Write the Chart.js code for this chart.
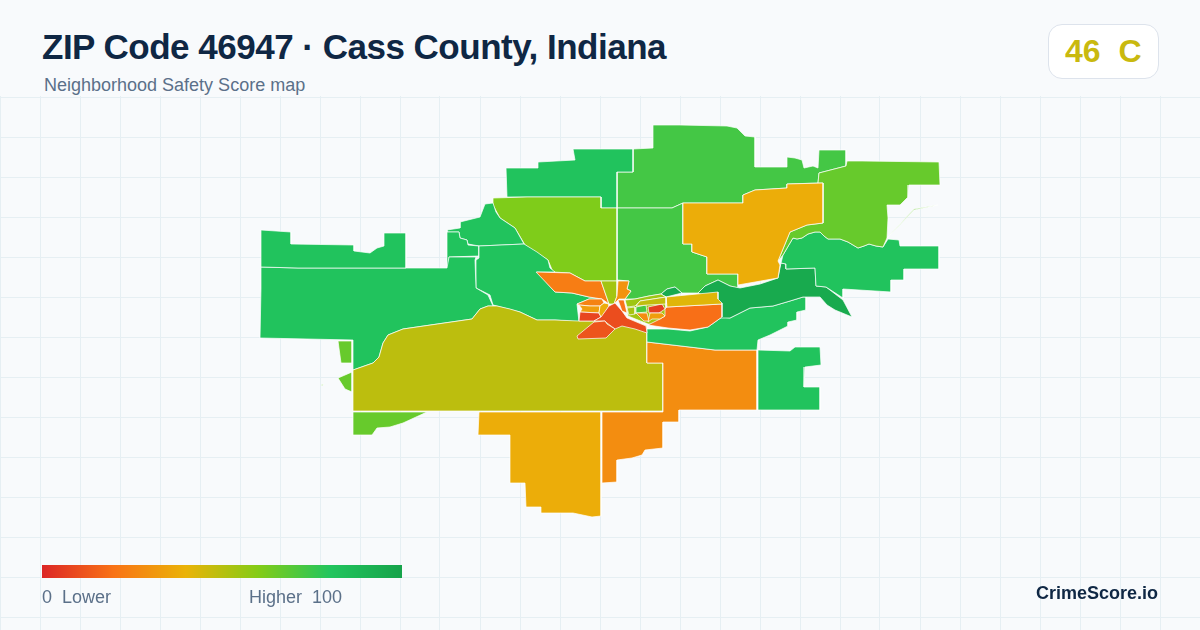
<!DOCTYPE html>
<html>
<head>
<meta charset="utf-8">
<title>ZIP Code 46947</title>
<script src="https://cdn.jsdelivr.net/npm/chart.js@4"></script>
<style>
    html, body { margin: 0; padding: 0; background: #f8fafc; }
    body { width: 1200px; height: 630px; position: relative; overflow: hidden; font-family: "Liberation Sans", Arial, sans-serif; }
    canvas { position: absolute; left: 0; top: 0; }
    .header { position: absolute; left: 0; top: 0; width: 1200px; height: 96px; background: #f8fafc; }
    .title { position: absolute; left: 42px; top: 27px; font-size: 35px; letter-spacing: -0.5px; line-height: 40px; font-weight: 700; color: #0f2744; white-space: pre; }
    .subtitle { position: absolute; left: 44px; top: 75px; font-size: 18px; line-height: 20px; color: #5b7089; white-space: pre; }
    .badge { position: absolute; left: 1048px; top: 24px; width: 109px; height: 53px; background: #fff; border: 1px solid #dde3ec; border-radius: 14px; }
    .badge span { position: absolute; left: 16px; top: 8px; font-size: 32px; line-height: 37px; font-weight: 700; color: #c9b90f; white-space: pre; }
    .bar { position: absolute; left: 42px; top: 565px; width: 360px; height: 13px; }
    .lab { position: absolute; top: 587px; font-size: 18px; line-height: 20px; color: #5b7089; white-space: pre; }
    .brand { position: absolute; right: 42px; top: 583px; font-size: 18px; line-height: 20px; font-weight: 700; color: #0f2744; }
</style>
</head>
<body>
<canvas id="map" width="1200" height="630"></canvas>
<div class="header"></div>
<div class="title">ZIP Code 46947 · Cass County, Indiana</div>
<div class="subtitle">Neighborhood Safety Score map</div>
<div class="badge"><span id="badge"></span></div>
<div class="bar" id="bar"></div>
<div class="lab" style="left:42px" id="lowLabel"></div>
<div class="lab" style="left:249px" id="highLabel"></div>
<div class="brand">CrimeScore.io</div>

<script>
// Tract outlines, back to front
const northBig = [[633,149],[653,148],[653,125],[680,125],[727,126],[737,128],[745,136],[755,137],[755,167],[787,167],[787,157],[795,158],[802,160],[804,168],[813,166],[818,168],[819,150],[846,150],[846,166],[819,173],[818,183],[787,184],[787,188],[755,190],[743,195],[743,203],[683,203],[672,208],[617,208],[617,172],[633,172]];
const northMid = [[617,208],[672,208],[683,203],[683,244],[692,244],[692,252],[707,257],[707,274],[738,274],[738,288],[730,286],[718,280],[705,286],[698,293],[682,293],[675,287],[667,289],[661,294],[649,296],[635,299],[625,299],[631,291],[627,289],[629,281],[617,280]];
const northWest = [[573,149],[633,149],[633,172],[617,172],[617,208],[601,208],[601,197],[527,197],[507,197],[506,168],[538,168],[538,162],[575,160]];
const limeNorth = [[493,198],[527,197],[601,197],[601,208],[617,208],[617,281],[601,281],[585,281],[570,273],[553,272],[548,260],[525,245],[515,228],[500,218],[493,205]];
const westSmall = [[493,203],[485,204],[480,217],[460,222],[460,228],[447,230],[447,232],[459,232],[460,238],[467,240],[468,244],[479,246],[524,244],[515,228],[500,218],[496,212]];
const westSliver = [[447,232],[459,232],[460,238],[467,240],[468,245],[479,246],[479,256],[449,257],[448,268],[447,268]];
const westRiver = [[479,246],[524,244],[537,252],[548,260],[550,268],[555,272],[537,272],[555,292],[572,293],[589,297],[602,299],[589,299],[577,304],[579,322],[555,320],[537,320],[520,312],[497,306],[493,305],[490,295],[476,288],[476,260],[479,258]];
const westBig = [[261,267],[298,268],[406,268],[447,268],[449,257],[476,257],[475,260],[476,288],[488,295],[493,306],[488,306],[480,309],[472,319],[403,329],[388,335],[383,343],[379,357],[373,363],[353,370],[353,340],[307,339],[260,338],[261,288]];
const westTop = [[261,230],[291,232],[291,244],[354,245],[354,251],[370,253],[377,248],[384,246],[384,233],[406,233],[406,268],[298,268],[261,267]];
const westChip = [[338,341],[352,341],[352,363],[341,363]];
const westDot = [[338,378],[352,372],[352,392],[345,389]];
const farDot = [[321,385],[324,384],[322,386]];
const olive = [[353,370],[373,363],[379,357],[383,343],[388,335],[403,329],[472,319],[480,309],[488,306],[497,306],[510,309],[520,312],[537,320],[555,320],[579,321],[594,321],[605,321],[615,325],[627,318],[647,326],[647,363],[663,363],[663,411],[353,411]];
const limeSouth = [[353,412],[427,412],[403,423],[390,427],[377,428],[372,435],[353,435]];
const southAmber = [[479,412],[601,412],[601,516],[592,517],[573,513],[541,513],[541,507],[526,507],[525,483],[510,483],[510,435],[478,435]];
const southOrange = [[647,342],[715,350],[757,350],[757,410],[679,410],[679,422],[663,422],[663,448],[645,450],[642,455],[632,458],[617,460],[617,482],[602,483],[602,412],[663,412],[663,363],[647,363]];
const eastSquare = [[758,350],[790,351],[795,347],[820,347],[821,365],[805,367],[804,387],[820,387],[820,410],[758,410]];
const riverBand = [[647,329],[668,329],[690,331],[708,327],[722,317],[730,318],[740,313],[750,308],[773,306],[790,301],[803,297],[806,297],[806,310],[797,312],[797,320],[788,322],[788,326],[770,335],[758,340],[757,350],[715,350],[647,342]];
const darkRiver = [[698,293],[705,286],[718,280],[730,286],[740,288],[760,284],[778,278],[781,263],[786,264],[786,269],[815,268],[816,286],[826,287],[843,300],[852,317],[835,310],[827,305],[820,297],[803,297],[790,301],[773,306],[750,308],[740,313],[730,318],[720,318],[715,300]];
const darkChip = [[661,294],[667,289],[675,287],[682,293],[666,297]];
const eastGreen = [[793,238],[797,239],[802,238],[808,234],[815,232],[820,232],[824,236],[828,239],[840,239],[848,242],[858,248],[864,246],[869,244],[876,246],[883,247],[888,239],[899,240],[900,246],[939,246],[939,269],[904,269],[904,280],[891,280],[891,292],[843,289],[843,298],[826,287],[816,286],[815,268],[786,269],[786,264],[781,263],[783,255],[790,243]];
const eastLime = [[819,173],[846,166],[847,161],[862,161],[939,162],[940,185],[909,185],[908,197],[900,205],[887,205],[888,218],[887,238],[883,247],[876,246],[869,244],[864,246],[858,248],[848,242],[840,239],[828,239],[824,236],[820,232],[815,232],[808,234],[802,238],[797,239],[793,238],[790,243],[783,255],[778,261],[790,232],[807,225],[823,223],[823,183],[818,183]];
const eastSliver = [[887,238],[914,209],[938,205],[914,210]];
const amberBlock = [[683,203],[743,203],[743,195],[755,190],[787,188],[787,184],[823,183],[823,223],[807,225],[790,232],[778,261],[780,265],[778,278],[738,285],[738,274],[707,274],[707,257],[692,252],[692,244],[683,244]];
const coreUnder = [[626,301],[665,299],[667,326],[648,324],[628,316]];
const orangeEast = [[667,307],[722,304],[722,317],[708,327],[690,330],[668,328],[648,325],[660,319],[665,316],[665,309]];
const yellowStrip = [[666,297],[718,292],[718,299],[722,303],[722,304],[667,307]];
const orangeNorth = [[536,272],[570,273],[585,281],[601,281],[609,304],[602,299],[589,297],[572,293],[555,292]];
const limeCenter = [[601,281],[617,281],[617,296],[614,304],[609,304]];
const orangeCenter = [[618,281],[629,281],[627,289],[631,291],[625,299],[619,299],[614,304],[617,296]];
const coreOrange = [[577,304],[589,299],[602,299],[604,303],[600,306],[590,306],[579,305]];
const coreAmber = [[579,305],[590,306],[600,306],[599,313],[580,312],[582,309]];
const coreRed = [[580,312],[599,313],[601,317],[594,321],[579,321]];
const coreYellow = [[599,313],[600,306],[604,303],[609,304],[609,306],[604,314],[601,317]];
const coreBig = [[615,303],[622,311],[627,318],[646,326],[647,333],[635,329],[622,326],[615,329],[607,323],[605,321],[594,321],[601,317],[609,306]];
const coreLow = [[577,336],[594,322],[605,321],[607,324],[615,329],[606,338],[578,339]];
const coreStrip = [[618,300],[624,300],[627,313],[622,311]];
const lineLime = [[625,300],[635,299],[649,296],[661,294],[666,297],[640,301],[635,306],[627,307]];
const chipOlive = [[627,308],[635,307],[635,314],[629,315]];
const chipGreen = [[636,307],[646,305],[647,312],[636,313]];
const chipRed = [[648,307],[662,304],[665,309],[659,313],[649,313]];
const chipYellow = [[640,301],[666,297],[666,304],[648,305],[636,306]];
const chipOrange = [[636,313],[647,313],[649,321],[644,321]];
const chipAmber = [[650,313],[662,313],[665,316],[660,319],[652,319],[648,322]];

const tracts = [northBig, northMid, northWest, limeNorth, westSmall, westSliver, westRiver, westBig, westTop,
    westChip, westDot, farDot, olive, limeSouth, southAmber, southOrange, eastSquare, riverBand, darkRiver, darkChip,
    eastGreen, eastLime, eastSliver, amberBlock, coreUnder, orangeEast, yellowStrip, orangeNorth, limeCenter, orangeCenter,
    coreOrange, coreAmber, coreRed, coreYellow, coreBig, coreLow, coreStrip, lineLime, chipOlive, chipGreen, chipRed,
    chipYellow, chipOrange, chipAmber];
const tractScores = [73, 73, 81, 61, 81, 81, 81, 81, 81,
    66, 66, 66, 49, 66, 38, 28, 81, 81, 96, 96,
    81, 66, 66, 38, 54, 19, 42, 23, 54, 30,
    25, 33, 8, 38, 10, 12, 20, 55, 53, 72, 6,
    48, 28, 33];

const rampStops = [0, 20, 40, 60, 80, 100];
const rampColors = [[220,38,38], [249,115,22], [234,179,8], [132,204,22], [34,197,94], [22,163,74]];
const gridCols = [0, 40, 80, 120, 160, 200, 240, 280, 320, 360, 400, 440, 480, 520, 560, 600, 640, 680, 720, 760, 800, 840, 880, 920, 960, 1000, 1040, 1080, 1120, 1160];
const gridRows = [97, 137, 177, 217, 257, 297, 337, 377, 417, 457, 497, 537, 577, 617];
const overallScore = 46;
const overallGrade = 'C';

function scoreColor(score) {
    let i = 0;
    while (i < rampStops.length - 2 && score > rampStops[i + 1]) i++;
    const t = (score - rampStops[i]) / (rampStops[i + 1] - rampStops[i]);
    const c = rampColors[i].map((v, k) => Math.round(v + (rampColors[i + 1][k] - v) * t));
    return `rgb(${c[0]},${c[1]},${c[2]})`;
}

document.getElementById('badge').textContent = overallScore + '  ' + overallGrade;
document.getElementById('lowLabel').textContent = rampStops[0] + '  Lower';
document.getElementById('highLabel').textContent = 'Higher  ' + rampStops[rampStops.length - 1];
document.getElementById('bar').style.background = 'linear-gradient(to right,' +
    rampStops.map(s => scoreColor(s) + ' ' + s + '%').join(',') + ')';

new Chart(document.getElementById('map'), {
    type: 'scatter',
    data: {
        datasets: tracts.map((shape, i) => ({
            data: shape.concat([shape[0]]).map(p => ({ x: p[0], y: p[1] })),
            showLine: true,
            fill: 'shape',
            backgroundColor: scoreColor(tractScores[i]),
            borderColor: '#ffffff',
            borderWidth: 0.7,
            pointRadius: 0,
            pointHoverRadius: 0,
            tension: 0,
            order: tracts.length - i
        }))
    },
    options: {
        responsive: false,
        animation: false,
        layout: { padding: 0 },
        plugins: { legend: { display: false }, tooltip: { enabled: false } },
        scales: {
            x: {
                type: 'linear', min: 0, max: 1200,
                afterBuildTicks: axis => { axis.ticks = gridCols.map(v => ({ value: v })); },
                ticks: { display: false },
                grid: { color: '#e6eff3', lineWidth: 1, drawTicks: false },
                border: { display: false }
            },
            y: {
                type: 'linear', min: 0, max: 630, reverse: true,
                afterBuildTicks: axis => { axis.ticks = gridRows.map(v => ({ value: v })); },
                ticks: { display: false },
                grid: { color: '#e6eff3', lineWidth: 1, drawTicks: false },
                border: { display: false }
            }
        }
    }
});
</script>
</body>
</html>
